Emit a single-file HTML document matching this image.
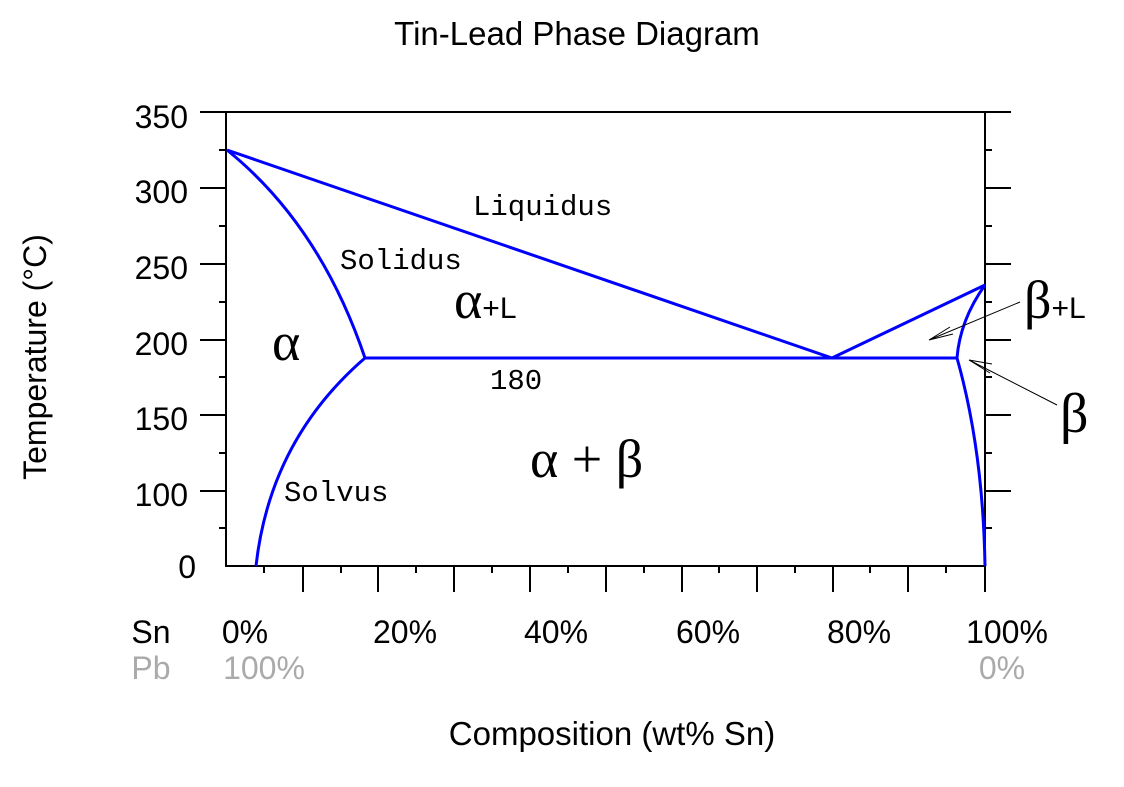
<!DOCTYPE html>
<html><head><meta charset="utf-8"><style>
html,body{margin:0;padding:0;background:#fff;width:1124px;height:787px;overflow:hidden}
</style></head><body>
<svg width="1124" height="787" xmlns="http://www.w3.org/2000/svg">
<g font-family="Liberation Sans, sans-serif" fill="#000">
<text x="577" y="45" font-size="33" text-anchor="middle">Tin-Lead Phase Diagram</text>
<text x="612" y="745" font-size="33" text-anchor="middle">Composition (wt% Sn)</text>
<text transform="translate(46,357) rotate(-90)" font-size="32" text-anchor="middle">Temperature (°C)</text>
<g font-size="32" text-anchor="end">
<text x="188" y="128">350</text><text x="188" y="203">300</text><text x="188" y="279">250</text>
<text x="188" y="355">200</text><text x="188" y="430">150</text><text x="188" y="506">100</text>
<text x="196" y="578">0</text>
</g>
<g font-size="32" text-anchor="middle">
<text x="151" y="643">Sn</text><text x="245" y="643">0%</text><text x="405" y="643">20%</text>
<text x="556" y="643">40%</text><text x="708" y="643">60%</text><text x="859" y="643">80%</text>
<text x="1007" y="643">100%</text>
</g>
<g font-size="32" text-anchor="middle" fill="#aaa">
<text x="151" y="679">Pb</text><text x="264" y="679">100%</text><text x="1002" y="679">0%</text>
</g>
</g>
<g stroke="#000" stroke-width="2" fill="none">
<path d="M200 112H1011M226 112V566H985M985 112V592"/>
<path d="M200 188H226M200 264H226M200 340H226M200 415H226M200 491H226M219 150H226M219 226H226M219 302H226M219 377H226M219 453H226M219 528H226"/>
<path d="M985 188H1011M985 264H1011M985 340H1011M985 415H1011M985 491H1011M985 150H992M985 226H992M985 302H992M985 377H992M985 453H992M985 528H992"/>
<path d="M303 566V592M378 566V592M454 566V592M530 566V592M606 566V592M682 566V592M757 566V592M833 566V592M908 566V592M264 566V573M341 566V573M416 566V573M492 566V573M568 566V573M644 566V573M719 566V573M795 566V573M870 566V573M946 566V573"/>
</g>
<g stroke="#00f" stroke-width="3" fill="none">
<path d="M227 150L832 358L985 285"/>
<path d="M365 358H957"/>
<path d="M227 150Q320 225 365 358"/>
<path d="M365 358Q270 440 256 566"/>
<path d="M985 285Q960 320 957 358"/>
<path d="M957 358Q983 450 985 566"/>
</g>
<g stroke="#000" stroke-width="1" fill="none">
<path d="M1020 302L929 340M929 340L950 327M929 340L953 334"/>
<path d="M1057 405L969 360M969 360L992 364M969 360L990 373"/>
</g>
<g font-family="Liberation Mono, monospace" font-size="29" fill="#000" font-weight="300">
<text x="473" y="215">Liquidus</text>
<text x="340" y="269">Solidus</text>
<text x="490" y="389">180</text>
<text x="284" y="501">Solvus</text>
</g>
<g font-family="Liberation Serif, serif" fill="#000">
<text x="272" y="360" font-size="54">α</text>
<text x="454" y="318" font-size="54">α<tspan font-family="Liberation Sans, sans-serif" font-size="30">+L</tspan></text>
<text x="530" y="477" font-size="54">α + β</text>
<text x="1024" y="318" font-size="54">β<tspan font-family="Liberation Sans, sans-serif" font-size="30">+L</tspan></text>
<text x="1060" y="432" font-size="56">β</text>
</g>
</svg>
</body></html>
